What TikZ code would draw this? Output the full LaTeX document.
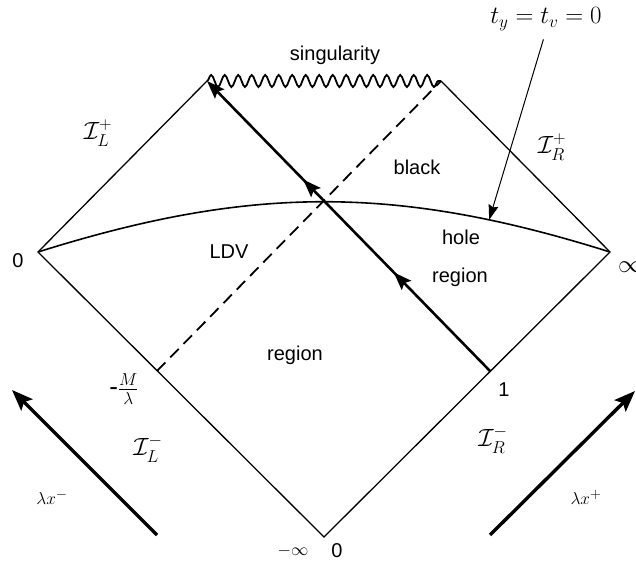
\documentclass[tikz,border=0pt]{standalone}
\usepackage{fontspec}
\setsansfont{Liberation Sans}
\usepackage{amsmath}
\usetikzlibrary{arrows.meta,decorations.pathmorphing,decorations.markings,positioning}

\begin{document}
\begin{tikzpicture}[
    x=1pt, y=1pt,
    border/.style={line width=1.3pt},
    sing/.style={line width=1.8pt, decorate, decoration={snake, amplitude=6pt, segment length=13.5pt}},
    horizon/.style={line width=1.8pt, dash pattern=on 12pt off 7pt},
    ray/.style={line width=2.6pt, -{Stealth[length=18pt,width=13pt,inset=3pt]},
        postaction={decorate},
        decoration={markings,
            mark=at position 0.34 with {\arrow{Stealth[length=18pt,width=13pt,inset=3pt]}},
            mark=at position 0.66 with {\arrow{Stealth[length=18pt,width=13pt,inset=3pt]}}}},
    flow/.style={line width=3.4pt, -{Stealth[length=21pt,width=16pt,inset=4pt]}},
    pointer/.style={line width=1pt, -{Stealth[length=15pt,width=10pt,inset=2pt]}},
    tag/.style={font=\sffamily\fontsize{20}{24}\selectfont, inner sep=0pt},
    scri/.style={font=\fontsize{24}{28}\selectfont, inner sep=0pt},
    lam/.style={font=\fontsize{19}{22}\selectfont, inner sep=0pt}
]
\useasboundingbox (0,0) rectangle (636,565);

\coordinate (L) at (38,313);
\coordinate (R) at (610,313);
\coordinate (B) at (324,28);
\coordinate (TL) at (207,484);
\coordinate (TR) at (441,484);
\coordinate (H1) at (157,194);
\coordinate (P1) at (490,194);

\draw[border] (TL) -- (L) -- (B) -- (R) -- (TR);
\draw[sing] (TL) -- (TR);
\draw[horizon] (H1) -- (TR);
\draw[ray] (P1) -- (TL);
\draw[line width=1.6pt] (L) .. controls (251,380) and (397,380) .. (R) coordinate[pos=0.8] (hz);

\node[tag] (singl) at (335,510) {singularity};
\node[tag] (black) at (417,398) {black};
\node[tag] (hole) at (461,328) {hole};
\node[tag] (regR) at (460,288) {region};
\node[tag] (ldv) at (229,313) {LDV};
\node[tag] (regL) at (295,210) {region};
\node[tag] (zeroL) at (18,304) {0};
\node[tag] (one) at (504,175) {1};
\node[tag] (zeroB) at (337,14) {0};
\node[lam] (minf) at (293,14) {$-\infty$};
\node[scri, anchor=west] (infR) at (618,298) {$\infty$};
\node[tag, font=\sffamily\fontsize{26}{30}\selectfont] (mlam) at (124,176) {-$\frac{M}{\lambda}$};

\node[scri] (scriLp) at (98,432) {$\mathcal{I}_L^+$};
\node[scri] (scriRp) at (552,418) {$\mathcal{I}_R^+$};
\node[scri] (scriLm) at (148,116) {$\mathcal{I}_L^-$};
\node[scri] (scriRm) at (493,125) {$\mathcal{I}_R^-$};

\node[font=\fontsize{24}{28}\selectfont, inner sep=0pt] (tval) at (546,546) {$t_y = t_v = 0$};
\draw[pointer, shorten <=9pt] (tval.south) -- (hz);

\coordinate (mtail) at (157,30);
\coordinate (mtip) at (12,175);
\coordinate (ptail) at (490,30);
\coordinate (ptip) at (635,174);
\draw[flow] (mtail) -- (mtip);
\draw[flow] (ptail) -- (ptip);
\node[lam] (lamm) at (52,68) {$\lambda x^-$};
\node[lam] (lamp) at (586,68) {$\lambda x^+$};
\end{tikzpicture}
\end{document}
